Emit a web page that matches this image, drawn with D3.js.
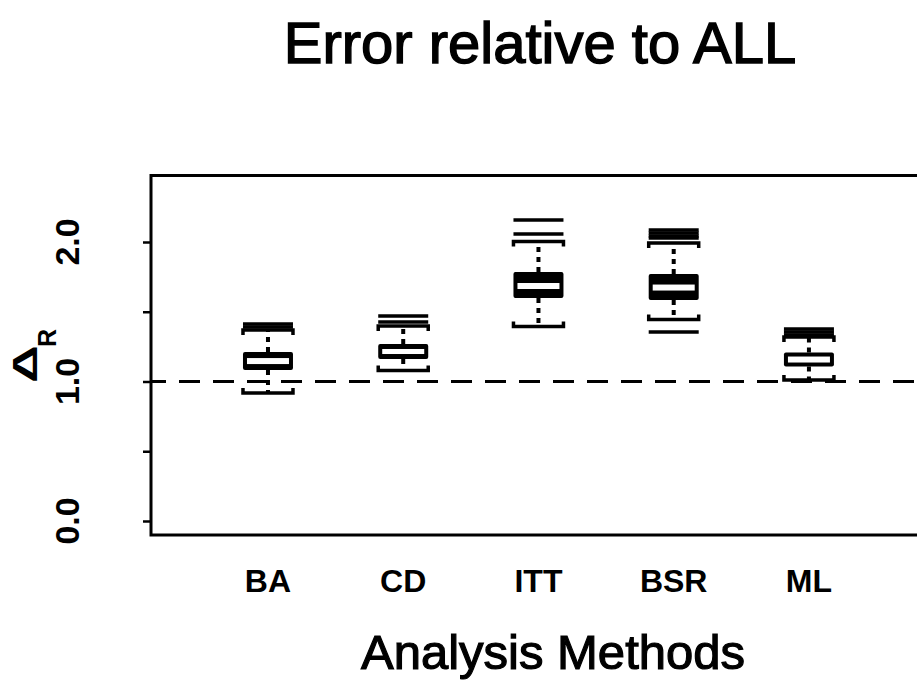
<!DOCTYPE html>
<html>
<head>
<meta charset="utf-8">
<script src="https://cdn.jsdelivr.net/npm/d3@7"></script>
<style>
  html, body { margin: 0; padding: 0; background: #fff; }
  svg { display: block; }
  text { font-family: "Liberation Sans", Arial, Helvetica, sans-serif; fill: #000; }
</style>
</head>
<body>
<svg id="chart" width="917" height="680"></svg>
<script>
// Analysis methods along the x axis
const methods = ["BA", "CD", "ITT", "BSR", "ML"];

// Box extents: the runs overlap, so each box is a solid band (boxLow..boxHigh)
// with its shared interior (innerLow..innerHigh) left open
const boxLow    = [1.082, 1.161, 1.599, 1.584, 1.108];
const boxHigh   = [1.211, 1.269, 1.785, 1.771, 1.208];
const innerLow  = [1.125, 1.197, 1.663, 1.652, 1.136];
const innerHigh = [1.168, 1.233, 1.706, 1.695, 1.179];

// Whisker ends
const whiskerLow  = [0.918, 1.079, 1.394, 1.444, 1.011];
const whiskerHigh = [1.369, 1.398, 2.004, 1.993, 1.319];

// Further whisker lines from the other runs, beyond the caps
const extraLines = [
  [1.391, 1.412],
  [1.427, 1.470],
  [2.057, 2.158],
  [2.029, 2.043, 2.065, 2.086, 1.355],
  [1.333, 1.355, 1.376]
];

const yTicks = [0, 0.5, 1, 1.5, 2];
const yTickLabels = ["0.0", "", "1.0", "", "2.0"];
const referenceLevel = 1.0;

const svg = d3.select("#chart");

const plot = { left: 151, right: 955, top: 175.5, bottom: 535 };

const x = d3.scaleLinear().domain([0.135, 6.08]).range([plot.left, plot.right]);
const y = d3.scaleLinear().domain([-0.1004, 2.4767]).range([plot.bottom, plot.top]);
const boxHalf = 25;

// Title
svg.append("text")
  .attr("x", 540).attr("y", 63)
  .attr("text-anchor", "middle")
  .attr("font-size", 58)
  .attr("stroke", "#000").attr("stroke-width", 1.4)
  .text("Error relative to ALL");

// Reference line at 1
svg.append("line")
  .attr("x1", plot.left).attr("x2", plot.right)
  .attr("y1", y(referenceLevel)).attr("y2", y(referenceLevel))
  .attr("stroke", "#000").attr("stroke-width", 3)
  .attr("stroke-dasharray", "21,13").attr("stroke-dashoffset", 6);

// Boxes
const g = svg.append("g");
methods.forEach((m, i) => {
  const cx = x(i + 1);
  const grp = g.append("g");

  // dotted whiskers
  grp.append("line")
    .attr("x1", cx).attr("x2", cx)
    .attr("y1", y(boxHigh[i])).attr("y2", y(whiskerHigh[i]))
    .attr("stroke", "#000").attr("stroke-width", 4)
    .attr("stroke-dasharray", "5,5");
  grp.append("line")
    .attr("x1", cx).attr("x2", cx)
    .attr("y1", y(boxLow[i])).attr("y2", y(whiskerLow[i]))
    .attr("stroke", "#000").attr("stroke-width", 4)
    .attr("stroke-dasharray", "5,5");

  // caps, hooked toward the box
  const cap = (v, dir) => {
    const yy = y(v);
    grp.append("path")
      .attr("d", `M${cx - boxHalf},${yy + dir * 5}L${cx - boxHalf},${yy}L${cx + boxHalf},${yy}L${cx + boxHalf},${yy + dir * 5}`)
      .attr("fill", "none").attr("stroke", "#000").attr("stroke-width", 3.5);
  };
  cap(whiskerHigh[i], 1);
  cap(whiskerLow[i], -1);

  extraLines[i].forEach(v => {
    grp.append("line")
      .attr("x1", cx - boxHalf).attr("x2", cx + boxHalf)
      .attr("y1", y(v)).attr("y2", y(v))
      .attr("stroke", "#000").attr("stroke-width", 3.5);
  });

  // solid band with open interior
  grp.append("rect")
    .attr("x", cx - boxHalf).attr("width", boxHalf * 2)
    .attr("y", y(boxHigh[i])).attr("height", y(boxLow[i]) - y(boxHigh[i]))
    .attr("rx", 2)
    .attr("fill", "#000");
  grp.append("rect")
    .attr("x", cx - boxHalf + 4).attr("width", boxHalf * 2 - 8)
    .attr("y", y(innerHigh[i])).attr("height", y(innerLow[i]) - y(innerHigh[i]))
    .attr("fill", "#fff");
});

// Plot frame
svg.append("rect")
  .attr("x", plot.left).attr("y", plot.top)
  .attr("width", plot.right - plot.left).attr("height", plot.bottom - plot.top)
  .attr("fill", "none").attr("stroke", "#000").attr("stroke-width", 3);

// Y axis
const yAxis = d3.axisLeft(y).tickValues(yTicks).tickSize(8).tickPadding(0)
  .tickFormat(() => "");
const ya = svg.append("g").attr("transform", `translate(${plot.left},0)`).call(yAxis);
ya.select(".domain").remove();
ya.selectAll(".tick line").attr("stroke", "#000").attr("stroke-width", 2.5);

yTicks.forEach((t, i) => {
  if (!yTickLabels[i]) return;
  svg.append("text")
    .attr("transform", `translate(79,${y(t)}) rotate(-90)`)
    .attr("text-anchor", "middle")
    .attr("font-size", 34).attr("font-weight", "bold")
    .text(yTickLabels[i]);
});

// Category labels
methods.forEach((m, i) => {
  svg.append("text")
    .attr("x", x(i + 1)).attr("y", 592)
    .attr("text-anchor", "middle")
    .attr("font-size", 32).attr("font-weight", "bold")
    .text(m);
});

// Axis titles
svg.append("text")
  .attr("x", (plot.left + plot.right) / 2).attr("y", 669)
  .attr("text-anchor", "middle")
  .attr("font-size", 49)
  .attr("stroke", "#000").attr("stroke-width", 1.2)
  .text("Analysis Methods");

svg.append("text")
  .attr("transform", "translate(37,383) rotate(-90) scale(1.5,1)")
  .attr("font-size", 35).attr("font-weight", "bold")
  .text("Δ");
svg.append("text")
  .attr("transform", "translate(56,347) rotate(-90)")
  .attr("font-size", 25).attr("font-weight", "bold")
  .text("R");
</script>
</body>
</html>
